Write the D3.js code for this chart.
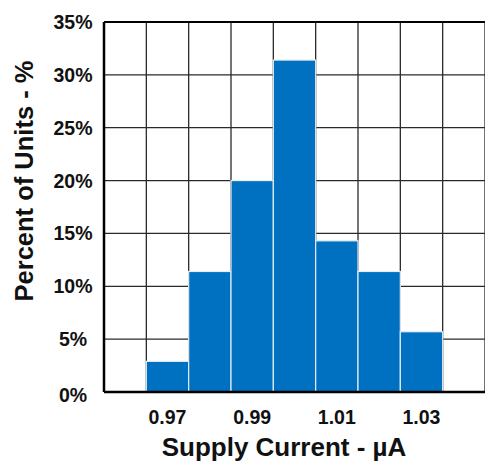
<!DOCTYPE html>
<html lang="en">
<head>
    <meta charset="UTF-8">
    <title>Supply Current Histogram</title>
    <script src="https://d3js.org/d3.v7.min.js"></script>
    <style>
        body { margin: 0; background: #fff; }
        svg { display: block; }
        text { font-family: "Liberation Sans", Arial, sans-serif; font-weight: bold; fill: #111; }
    </style>
</head>
<body>
    <svg id="chart" width="485" height="462"></svg>
    <script>
        // bin centers (µA) and percent of units
        const binCenters = [0.97, 0.98, 0.99, 1.00, 1.01, 1.02, 1.03];
        const percents = [2.9, 11.4, 20.0, 31.4, 14.3, 11.4, 5.7];
        const xTicks = [0.97, 0.99, 1.01, 1.03];
        const yTicks = [0, 5, 10, 15, 20, 25, 30, 35];
        const binWidth = 0.01;

        const svg = d3.select("#chart");
        const margin = { top: 22, right: 0, bottom: 70, left: 104 };
        const width = 485 - margin.left - margin.right;
        const height = 462 - margin.top - margin.bottom;

        const x = d3.scaleLinear().domain([0.955, 1.045]).range([0, width]);
        const y = d3.scaleLinear().domain([0, 35]).range([height, 0]);

        const g = svg.append("g").attr("transform", `translate(${margin.left},${margin.top})`);

        // grid lines
        const vLines = d3.range(0, 10).map(i => 0.955 + i * binWidth);
        g.selectAll(".vgrid").data(vLines).enter().append("line")
            .attr("x1", d => x(d)).attr("x2", d => x(d))
            .attr("y1", 0).attr("y2", height)
            .attr("stroke", "#2a2a2a").attr("stroke-width", 1.3);
        g.selectAll(".hgrid").data(yTicks).enter().append("line")
            .attr("x1", 0).attr("x2", width)
            .attr("y1", d => y(d)).attr("y2", d => y(d))
            .attr("stroke", "#2a2a2a").attr("stroke-width", 1.3);

        // bars
        g.selectAll(".bar").data(binCenters).enter().append("rect")
            .attr("x", d => x(d - binWidth / 2))
            .attr("width", d => x(d + binWidth / 2) - x(d - binWidth / 2))
            .attr("y", (d, i) => y(percents[i]))
            .attr("height", (d, i) => height - y(percents[i]))
            .attr("fill", "#0070c0")
            .attr("stroke", "#e4ecf4")
            .attr("stroke-width", 1.2);

        // frame: top, left, bottom
        g.append("line").attr("x1", 0).attr("x2", width).attr("y1", 0).attr("y2", 0)
            .attr("stroke", "#000").attr("stroke-width", 2);
        g.append("line").attr("x1", 0).attr("x2", 0).attr("y1", 0).attr("y2", height)
            .attr("stroke", "#000").attr("stroke-width", 2.5);
        g.append("line").attr("x1", 0).attr("x2", width).attr("y1", height).attr("y2", height)
            .attr("stroke", "#000").attr("stroke-width", 2.5);

        // y tick labels
        g.selectAll(".ylab").data(yTicks).enter().append("text")
            .attr("x", -31).attr("y", d => y(d) + (d === 0 ? 3 : 0))
            .attr("dy", "0.36em")
            .attr("text-anchor", "middle")
            .attr("font-size", 19.5)
            .text(d => d + "%");

        // x tick labels
        g.selectAll(".xlab").data(xTicks).enter().append("text")
            .attr("x", d => x(d))
            .attr("y", height + 25)
            .attr("dy", "0.36em")
            .attr("text-anchor", "middle")
            .attr("font-size", 19.5)
            .text(d => d.toFixed(2));

        // axis titles
        svg.append("text")
            .attr("x", 284).attr("y", 456)
            .attr("text-anchor", "middle")
            .attr("font-size", 26)
            .text("Supply Current - µA");
        svg.append("text")
            .attr("transform", "translate(33,181) rotate(-90)")
            .attr("text-anchor", "middle")
            .attr("font-size", 25.5)
            .text("Percent of Units - %");
    </script>
</body>
</html>
